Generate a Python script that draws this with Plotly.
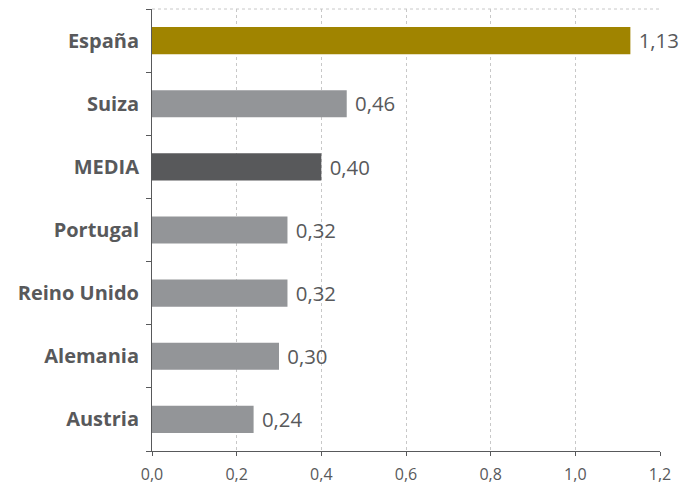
import plotly.graph_objects as go

categories = ["España", "Suiza", "MEDIA", "Portugal", "Reino Unido", "Alemania", "Austria"]
values = [1.13, 0.46, 0.40, 0.32, 0.32, 0.30, 0.24]
colors = ["#A08400", "#939598", "#58595B", "#939598", "#939598", "#939598", "#939598"]
x_ticks = [0, 0.2, 0.4, 0.6, 0.8, 1.0, 1.2]

fig = go.Figure(go.Bar(
    y=categories, x=values, orientation="h",
    marker=dict(color=colors, line=dict(width=0)),
    width=0.43,
    text=values, texttemplate=" %{x:.2f}", textposition="outside",
    textfont=dict(family="Open Sans", size=21, color="#58595B"),
    cliponaxis=False,
))

fig.update_layout(
    width=685, height=488,
    margin=dict(l=152, r=25, t=9, b=37),
    plot_bgcolor="white", paper_bgcolor="white",
    separators=",.",
    showlegend=False,
    shapes=[dict(type="line", xref="paper", yref="paper", x0=0, x1=1, y0=1, y1=1,
                 line=dict(color="#C8C8C8", width=1, dash="dot"))],
)
fig.update_xaxes(
    range=[0, 1.2], tickvals=x_ticks, tickformat=".1f",
    showgrid=True, gridcolor="#C8C8C8", griddash="dot", gridwidth=1,
    showline=True, linecolor="#58595B", linewidth=1,
    ticks="outside", ticklen=4, tickcolor="#58595B",
    tickfont=dict(family="Open Sans", size=16, color="#58595B"),
    zeroline=False, automargin=False, ticklabelstandoff=5,
)
fig.update_yaxes(
    categoryorder="array", categoryarray=categories[::-1],
    showline=True, linecolor="#58595B", linewidth=1,
    ticks="outside", ticklen=5, tickcolor="#58595B", tickson="boundaries",
    tickfont=dict(family="Open Sans", size=20, color="#58595B", weight="bold"),
    showgrid=False, ticklabelstandoff=8, automargin=False,
)

fig.write_html("out.html", config={"displayModeBar": False},
               post_script="document.body.style.margin='0';document.body.style.overflow='hidden';")
